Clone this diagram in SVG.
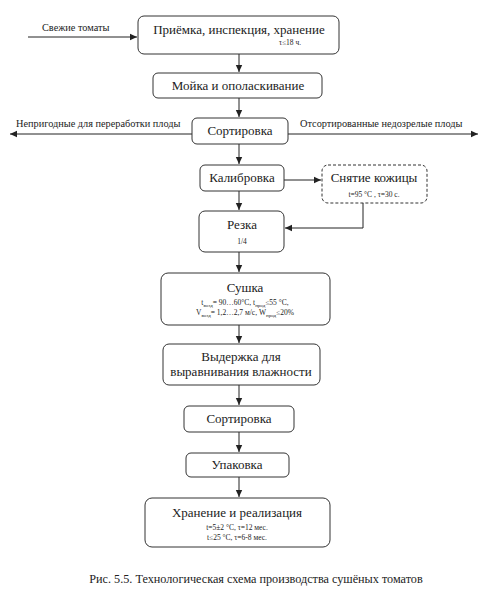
<svg xmlns="http://www.w3.org/2000/svg" width="493" height="600" viewBox="0 0 493 600">
<style>
.box{fill:#fff;stroke:#333;stroke-width:1}
.dash{fill:#fff;stroke:#333;stroke-width:1;stroke-dasharray:3,2}
.t{font-family:"Liberation Serif","Times New Roman",serif;font-size:13px;fill:#222;text-anchor:middle}
.s{font-family:"Liberation Serif","Times New Roman",serif;font-size:7.5px;fill:#222;text-anchor:middle}
.l{font-family:"Liberation Serif","Times New Roman",serif;font-size:10.3px;fill:#222}
.sub{font-size:5px}
.c{fill:none;stroke:#222;stroke-width:1}
.cap{font-family:"Liberation Serif","Times New Roman",serif;font-size:12.2px;fill:#222;text-anchor:middle}
</style>
<defs>
<marker id="a" markerWidth="8" markerHeight="8" refX="7" refY="4" orient="auto" markerUnits="userSpaceOnUse">
<path d="M0,0.8 L7,4 L0,7.2 Z" fill="#222"/>
</marker>
</defs>
<rect width="493" height="600" fill="#fff"/>
<g id="connectors">
<path class="c" d="M28,37 H137" marker-end="url(#a)"/>
<path class="c" d="M239,54 V72" marker-end="url(#a)"/>
<path class="c" d="M239,98 V117" marker-end="url(#a)"/>
<path class="c" d="M192,134 H10" marker-end="url(#a)"/>
<path class="c" d="M288,134 H478" marker-end="url(#a)"/>
<path class="c" d="M239,144 V164" marker-end="url(#a)"/>
<path class="c" d="M284,180 H321" marker-end="url(#a)"/>
<path class="c" d="M239,191 V210" marker-end="url(#a)"/>
<path class="c" d="M363,203 V228 H285" marker-end="url(#a)"/>
<path class="c" d="M239,252 V272" marker-end="url(#a)"/>
<path class="c" d="M239,325 V343" marker-end="url(#a)"/>
<path class="c" d="M239,385 V405" marker-end="url(#a)"/>
<path class="c" d="M239,432 V452" marker-end="url(#a)"/>
<path class="c" d="M239,477 V497" marker-end="url(#a)"/>
<text class="l" x="42" y="31">Свежие томаты</text>
<text class="l" x="16" y="127">Непригодные для переработки плоды</text>
<text class="l" x="300" y="127">Отсортированные недозрелые плоды</text>
</g>
<g id="n1">
<rect class="box" x="138" y="16" width="201" height="38" rx="6"/>
<text class="t" x="239" y="34">Приёмка, инспекция, хранение</text>
<text class="s" x="290" y="45">τ≤18 ч.</text>
</g>
<g id="n2">
<rect class="box" x="153" y="73" width="169" height="25" rx="5"/>
<text class="t" x="238" y="90">Мойка и ополаскивание</text>
</g>
<g id="n3">
<rect class="box" x="192" y="118" width="96" height="26" rx="5"/>
<text class="t" x="240" y="135">Сортировка</text>
</g>
<g id="n4">
<rect class="box" x="200" y="165" width="84" height="26" rx="5"/>
<text class="t" x="242" y="182">Калибровка</text>
</g>
<g id="n5">
<rect class="dash" x="322" y="165" width="105" height="38" rx="6"/>
<text class="t" x="374" y="182">Снятие кожицы</text>
<text class="s" x="374" y="197">t=95 °C , τ=30 с.</text>
</g>
<g id="n6">
<rect class="box" x="199" y="211" width="85" height="41" rx="6"/>
<text class="t" x="242" y="229">Резка</text>
<text class="s" x="242" y="244">1/4</text>
</g>
<g id="n7">
<rect class="box" x="161" y="273" width="169" height="52" rx="7"/>
<text class="t" x="245" y="292">Сушка</text>
<text class="s" x="245" y="305">t<tspan class="sub" dy="1.5">возд</tspan><tspan dy="-1.5">= 90…60°C, t</tspan><tspan class="sub" dy="1.5">прод</tspan><tspan dy="-1.5">≤55 °C,</tspan></text>
<text class="s" x="245" y="315">V<tspan class="sub" dy="1.5">возд</tspan><tspan dy="-1.5">= 1,2…2,7 м/с, W</tspan><tspan class="sub" dy="1.5">прод</tspan><tspan dy="-1.5">≤20%</tspan></text>
</g>
<g id="n8">
<rect class="box" x="163" y="344" width="157" height="41" rx="6"/>
<text class="t" x="241" y="361">Выдержка для</text>
<text class="t" x="241" y="376">выравнивания влажности</text>
</g>
<g id="n9">
<rect class="box" x="184" y="406" width="110" height="26" rx="5"/>
<text class="t" x="239" y="423">Сортировка</text>
</g>
<g id="n10">
<rect class="box" x="186" y="453" width="103" height="24" rx="5"/>
<text class="t" x="237" y="469">Упаковка</text>
</g>
<g id="n11">
<rect class="box" x="145" y="498" width="185" height="49" rx="7"/>
<text class="t" x="237" y="517">Хранение и реализация</text>
<text class="s" x="237" y="530">t=5±2 °C, τ=12 мес.</text>
<text class="s" x="237" y="540">t≤25 °C, τ=6-8 мес.</text>
</g>
<text class="cap" x="256" y="583">Рис. 5.5. Технологическая схема производства сушёных томатов</text>
</svg>
